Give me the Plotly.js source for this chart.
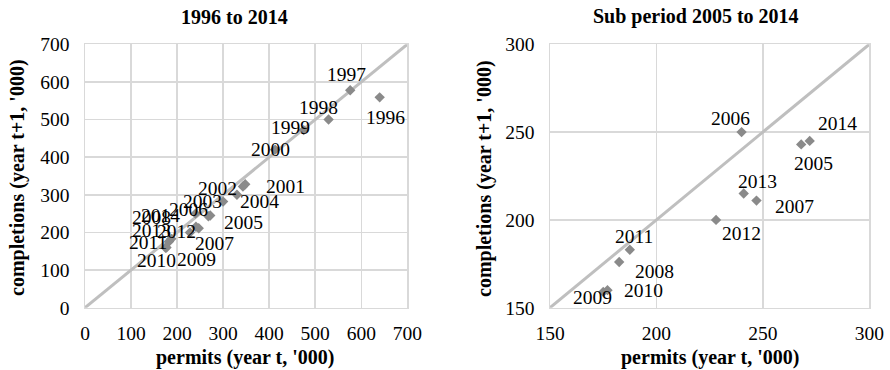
<!DOCTYPE html>
<html>
<head>
<meta charset="utf-8">
<script src="https://cdn.plot.ly/plotly-3.0.1.min.js"></script>
<style>html,body{margin:0;padding:0;background:#fff;}#chart{width:890px;height:370px;}</style>
</head>
<body>
<div id="chart"></div>
<script>
// ---- data ----
var years = [1996,1997,1998,1999,2000,2001,2002,2003,2004,2005,2006,2007,2008,2009,2010,2011,2012,2013,2014];
var permits = [640,576,529,475,413,348,343,300,330,268,240,247,182.5,175,177,187.5,228,241,272];
var completions = [559,578,500,472,420,328,322,282,300,243,250,211,176,159,160,183,200,215,245];
var subStartYear = 2005;
var leftRange = [0,700];
var rightRange = [150,300];
var leftTicks = [0,100,200,300,400,500,600,700];
var rightTicks = [150,200,250,300];
var leftTitle = '1996 to 2014';
var rightTitle = 'Sub period 2005 to 2014';
var xTitle = "permits (year t, '000)";
var yTitle = "completions (year t+1, '000)";

// label pixel offsets (dx right, dy down) -- placement only
var leftLabelOffsets = [[6,20],[-4,-16],[-10,-12],[-13,-3],[-5,0],[40,2],[-25,2],[-21,0],[23,7],[35,6],[-7,-4],[16,15],[-18,-24],[31,12],[-10,13],[-23,4],[-13,-1],[-44,4],[-50,0]];
var rightLabelOffsets = {2005:[12,19],2006:[-11,-14],2007:[38,6],2008:[35,9],2009:[-11,6],2010:[36,0],2011:[4,-13],2012:[25,14],2013:[14,-12],2014:[28,-17]};

// ---- styles ----
var FONT = "Liberation Serif, Tinos, Noto Serif, DejaVu Serif, serif";
var FS = 19.5;
var FS_TITLE = 20;
var markerColor = '#8a8a8a';
var lineColor = '#bfbfbf';
var gridColor = '#d9d9d9';

var subIdx = years.map(function(y,i){return y>=subStartYear?i:-1;}).filter(function(i){return i>=0;});
var subYears = subIdx.map(function(i){return years[i];});
var subPermits = subIdx.map(function(i){return permits[i];});
var subCompletions = subIdx.map(function(i){return completions[i];});

var traces = [
  {x: leftRange, y: leftRange, xaxis:'x', yaxis:'y', mode:'lines', line:{color:lineColor,width:3}, hoverinfo:'skip'},
  {x: permits, y: completions, xaxis:'x', yaxis:'y', mode:'markers', marker:{symbol:'diamond', size:8, color:markerColor}},
  {x: rightRange, y: rightRange, xaxis:'x2', yaxis:'y2', mode:'lines', line:{color:lineColor,width:3}, hoverinfo:'skip'},
  {x: subPermits, y: subCompletions, xaxis:'x2', yaxis:'y2', mode:'markers', marker:{symbol:'diamond', size:8, color:markerColor}}
];

var txtFont = {family:FONT,size:FS,color:'#000'};
var titleFont = {family:FONT,size:FS_TITLE,color:'#000'};
var annotations = [];
years.forEach(function(yr,i){
  var o = leftLabelOffsets[i];
  annotations.push({x:permits[i], y:completions[i], xref:'x', yref:'y', text:String(yr), showarrow:false,
    xshift:o[0], yshift:-o[1], font:txtFont});
});
subYears.forEach(function(yr,k){
  var o = rightLabelOffsets[yr];
  annotations.push({x:subPermits[k], y:subCompletions[k], xref:'x2', yref:'y2', text:String(yr), showarrow:false,
    xshift:o[0], yshift:-o[1], font:txtFont});
});
function paperText(t, px, py, angle){
  return {text:'<b>'+t+'</b>', xref:'paper', yref:'paper', x:px/890, y:1-py/370, showarrow:false,
    textangle:angle||0, xanchor:'center', yanchor:'middle', font:titleFont};
}
annotations.push(paperText(leftTitle, 234, 17));
annotations.push(paperText(rightTitle, 696, 17));
annotations.push(paperText(xTitle, 245, 357));
annotations.push(paperText(xTitle, 709.5, 357));
annotations.push(paperText(yTitle, 17, 178, -90));
annotations.push(paperText(yTitle, 484, 178, -90));

function axis(domain, range, ticks, anchor){
  return {domain:domain, range:range, tickvals:ticks, ticktext:ticks.map(String), anchor:anchor,
    showgrid:true, gridcolor:gridColor, gridwidth:1.5, zeroline:false,
    showline:true, mirror:true, linecolor:gridColor, linewidth:1.5,
    ticks:'', ticklabelstandoff:7, tickfont:txtFont, fixedrange:true};
}
var yDom = [(370-307.7)/370, (370-44.3)/370];
var layout = {
  width:890, height:370, margin:{l:0,r:0,t:0,b:0}, showlegend:false,
  paper_bgcolor:'#fff', plot_bgcolor:'#fff',
  xaxis: axis([85/890, 407.3/890], leftRange, leftTicks, 'y'),
  yaxis: axis(yDom, leftRange, leftTicks, 'x'),
  xaxis2: axis([550/890, 869.3/890], rightRange, rightTicks, 'y2'),
  yaxis2: axis(yDom, rightRange, rightTicks, 'x2'),
  annotations: annotations
};
layout.yaxis.ticklabelstandoff = 10;
layout.yaxis2.ticklabelstandoff = 10;
Plotly.newPlot('chart', traces, layout, {staticPlot:true, displayModeBar:false});
</script>
</body>
</html>
